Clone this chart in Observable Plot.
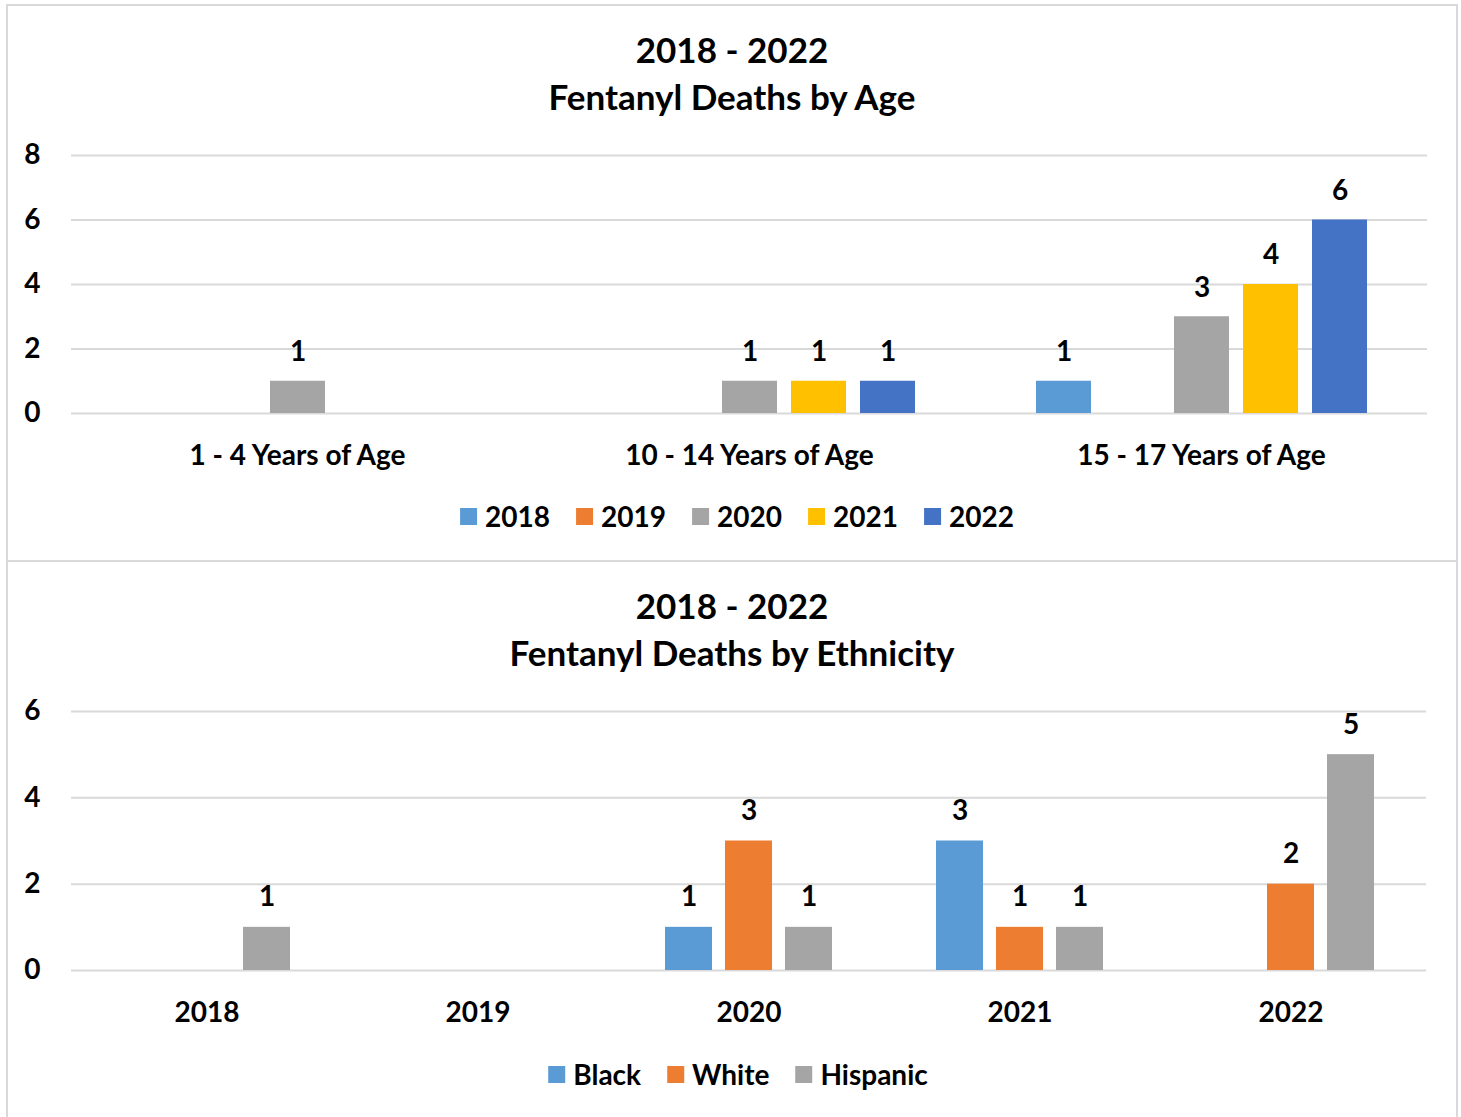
<!DOCTYPE html>
<html>
<head>
<meta charset="utf-8">
<script src="https://cdn.jsdelivr.net/npm/d3@7"></script>
<script src="https://cdn.jsdelivr.net/npm/@observablehq/plot@0.6"></script>
<style>
  html, body { margin: 0; padding: 0; background: #fff; }
  body { width: 1461px; height: 1117px; position: relative; overflow: hidden; font-family: Lato, "Open Sans", sans-serif; font-weight: bold; color: #000; }
  .box { position: absolute; left: 6px; width: 1452px; border: 2px solid #d9d9d9; box-sizing: border-box; }
  .title { position: absolute; left: 6px; width: 1452px; text-align: center; font-size: 35px; line-height: 47px; font-weight: bold; }
  .legend { position: absolute; display: flex; align-items: center; font-size: 28px; font-weight: bold; transform: translateX(-50%); white-space: nowrap; }
  .legend .item { display: flex; align-items: center; margin: 0 13px; }
  .legend .sw { width: 17px; height: 17px; margin-right: 8px; }
  .chart { position: absolute; left: 0; }
</style>
</head>
<body>
<div class="box" style="top:4px;height:558px"></div>
<div class="box" style="top:560px;height:562px"></div>
<div class="title" style="top:26px">2018 - 2022<br>Fentanyl Deaths by Age</div>
<div class="title" style="top:582px">2018 - 2022<br>Fentanyl Deaths by Ethnicity</div>
<div id="chart1" class="chart" style="top:131px"></div>
<div id="chart2" class="chart" style="top:687px"></div>
<div id="legend1" class="legend" style="left:737px;top:499px"></div>
<div id="legend2" class="legend" style="left:738px;top:1057px"></div>
<script>
// ---- Chart 1 data: deaths by age group and year ----
const ageGroups = ["1 - 4 Years of Age", "10 - 14 Years of Age", "15 - 17 Years of Age"];
const years = ["2018", "2019", "2020", "2021", "2022"];
const age1to4 = [0, 0, 1, 0, 0];
const age10to14 = [0, 0, 1, 1, 1];
const age15to17 = [1, 0, 3, 4, 6];
const yearColors = ["#5B9BD5", "#ED7D31", "#A5A5A5", "#FFC000", "#4472C4"];
const ageTicks = [0, 2, 4, 6, 8];

// ---- Chart 2 data: deaths by year and ethnicity ----
const ethYears = ["2018", "2019", "2020", "2021", "2022"];
const ethnicities = ["Black", "White", "Hispanic"];
const black = [0, 0, 1, 3, 0];
const white = [0, 0, 3, 1, 2];
const hispanic = [1, 0, 1, 1, 5];
const ethColors = ["#5B9BD5", "#ED7D31", "#A5A5A5"];
const ethTicks = [0, 2, 4, 6];

const FONT = "Lato, 'Open Sans', sans-serif";
const FS = 28;

const ageSeries = [age1to4, age10to14, age15to17];
const ageData = [];
ageGroups.forEach((g, gi) => years.forEach((y, yi) => {
  ageData.push({group: g, year: y, value: ageSeries[gi][yi]});
}));

const ethSeries = [black, white, hispanic];
const ethData = [];
ethYears.forEach((yr, yi) => ethnicities.forEach((e, ei) => {
  ethData.push({group: yr, eth: e, value: ethSeries[ei][yi]});
}));

const chart1 = Plot.plot({
  width: 1461, height: 342,
  marginLeft: 70, marginRight: 34, marginTop: 24, marginBottom: 60,
  style: {fontFamily: FONT, fontWeight: "bold", color: "#000", background: "transparent", overflow: "visible"},
  fx: {domain: ageGroups, paddingInner: 0, paddingOuter: 0, label: null},
  x: {domain: years, paddingInner: 0.21, paddingOuter: 0.857, axis: null},
  y: {domain: [0, 8], axis: null},
  color: {domain: years, range: yearColors},
  marks: [
    Plot.gridY(ageTicks, {stroke: "#d9d9d9", strokeOpacity: 1, strokeWidth: 2}),
    Plot.axisY(ageTicks, {tickSize: 0, tickPadding: 31, fontSize: FS, fontWeight: "bold", label: null}),
    Plot.barY(ageData, {fx: "group", x: "year", y: "value", fill: "year"}),
    Plot.text(ageData, {filter: d => d.value > 0, fx: "group", x: "year", y: "value", text: d => String(d.value), dy: -29, fontSize: FS, fontWeight: "bold", fill: "#000"}),
    Plot.axisFx({anchor: "bottom", tickSize: 0, tickPadding: 32, fontSize: FS, fontWeight: "bold", label: null})
  ]
});
document.getElementById("chart1").appendChild(chart1);

const chart2 = Plot.plot({
  width: 1461, height: 343,
  marginLeft: 70, marginRight: 34, marginTop: 24, marginBottom: 60,
  style: {fontFamily: FONT, fontWeight: "bold", color: "#000", background: "transparent", overflow: "visible"},
  fx: {domain: ethYears, paddingInner: 0, paddingOuter: 0, label: null},
  x: {domain: ethnicities, paddingInner: 0.217, paddingOuter: 0.86, axis: null},
  y: {domain: [0, 6], axis: null},
  color: {domain: ethnicities, range: ethColors},
  marks: [
    Plot.gridY(ethTicks, {stroke: "#d9d9d9", strokeOpacity: 1, strokeWidth: 2}),
    Plot.axisY(ethTicks, {tickSize: 0, tickPadding: 31, fontSize: FS, fontWeight: "bold", label: null}),
    Plot.barY(ethData, {fx: "group", x: "eth", y: "value", fill: "eth"}),
    Plot.text(ethData, {filter: d => d.value > 0, fx: "group", x: "eth", y: "value", text: d => String(d.value), dy: -30, fontSize: FS, fontWeight: "bold", fill: "#000"}),
    Plot.axisFx({anchor: "bottom", tickSize: 0, tickPadding: 32, fontSize: FS, fontWeight: "bold", label: null})
  ]
});
document.getElementById("chart2").appendChild(chart2);

function legend(el, labels, colors) {
  labels.forEach((l, i) => {
    const item = document.createElement("div");
    item.className = "item";
    const sw = document.createElement("div");
    sw.className = "sw";
    sw.style.background = colors[i];
    const t = document.createElement("span");
    t.textContent = l;
    item.appendChild(sw);
    item.appendChild(t);
    el.appendChild(item);
  });
}
legend(document.getElementById("legend1"), years, yearColors);
legend(document.getElementById("legend2"), ethnicities, ethColors);
</script>
</body>
</html>
